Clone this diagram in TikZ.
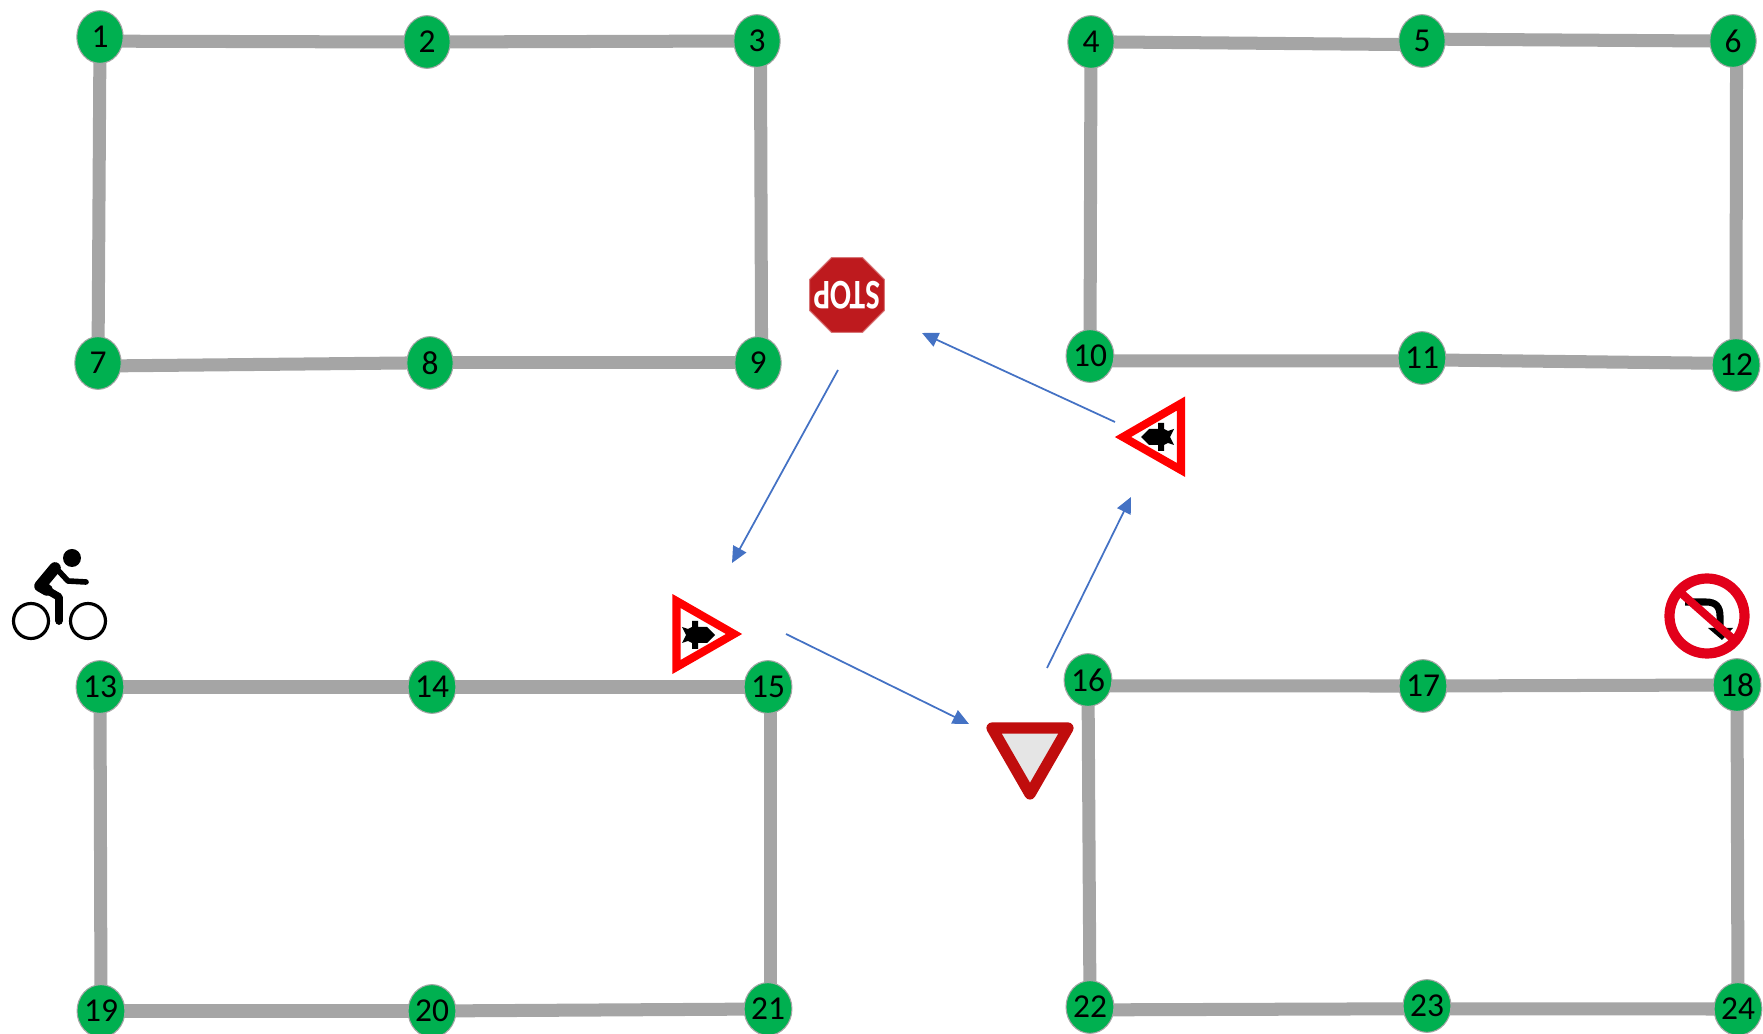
\documentclass[tikz,border=0pt]{standalone}
\usepackage{fontspec}
\setmainfont{Carlito}
\usetikzlibrary{shapes.geometric}
\usetikzlibrary{arrows.meta}
\usetikzlibrary{backgrounds}
\definecolor{nodegreen}{HTML}{00B050}
\definecolor{roadgray}{HTML}{A5A5A5}
\definecolor{arrowblue}{HTML}{4472C4}
\definecolor{stopred}{HTML}{BE1A1E}
\definecolor{yieldred}{HTML}{C00D0D}
\definecolor{banred}{HTML}{E2001A}
\tikzset{
 stopnode/.style={ellipse, fill=nodegreen, draw=roadgray, line width=.3pt, minimum width=13.2pt, minimum height=15pt, inner sep=0pt, font=\fontsize{9.5}{10}\selectfont},
 road/.style={roadgray, line width=3.7pt, shorten <=-2pt, shorten >=-2pt},
 flow/.style={arrowblue, line width=.5pt, -{Triangle[length=4.6pt,width=4.2pt]}},
 warnsign/.style={red, line width=2.3pt, line join=miter},
}
\newcommand{\carblob}{\fill[black] (-13,-8)--(-7,-6)--(-3,-8)--(-3,-14)--(3,-14)--(3,-8)--(12,-8)--(20,0)--(12,8)--(3,8)--(3,14)--(-3,14)--(-3,8)--(-7,6)--(-13,8)--(-9,0)--cycle;}
\begin{document}
\begin{tikzpicture} [x=.01cm, y=-.01cm]
\useasboundingbox (0,0) rectangle (1763,1034);
\foreach \n/\x/\y in {1/100/37, 2/427/42, 3/757/41, 4/1091/42, 5/1422/41, 6/1733/41,
  7/98/363, 8/430/363, 9/758/363, 10/1090/356, 11/1422/358, 12/1736/365,
  13/100/687, 14/432/687, 15/768/687, 16/1088/680, 17/1423/686, 18/1737/685,
  19/101/1011, 20/432/1011, 21/768/1009, 22/1090/1007, 23/1427/1006, 24/1738/1009} {
 \node[stopnode] (n\n) at (\x,\y) {\n};
}
\begin{scope}[on background layer]
\foreach \a/\b in {2/3,1/7,8/9,4/10,13/14,14/15,13/19,19/20,20/21,17/18,16/22,18/24} {
 \draw[road] (n\a)--(n\b);
}
% roads that miss the middle of a stop
\draw[road] ([yshift=-1.2pt]n1.east)--(n2.west);
\draw[road] ([xshift=1pt]n3.south)--([xshift=1pt]n9.north);
\draw[road] ([yshift=-.8pt]n7.east)--(n8.west);
\draw[road] (n4.east)--([yshift=-1pt]n5.west);
\draw[road] ([yshift=.5pt]n5.east)--(n6.west);
\draw[road] ([xshift=1pt]n6.south)--(n12.north);
\draw[road] ([yshift=-1.4pt]n10.east)--([yshift=-.8pt]n11.west);
\draw[road] ([yshift=-.6pt]n11.east)--([yshift=.5pt]n12.west);
\draw[road] ([xshift=.6pt]n15.south)--([xshift=.6pt]n21.north);
\draw[road] ([yshift=-1.7pt]n16.east)--(n17.west);
\draw[road] ([yshift=-.8pt]n22.east)--([yshift=-.8pt]n23.west);
\draw[road] ([yshift=-.8pt]n23.east)--(n24.west);
\end{scope}
% signs
\node[regular polygon, regular polygon sides=8, fill=stopred, draw=stopred!60!white, line width=.3pt, minimum size=23pt, inner sep=0pt, text=white, rotate=180, font=\fontsize{12}{12}\selectfont\bfseries] (stop) at (847,295) {\makebox[0pt]{\scalebox{.74}[1]{STOP}}};
\draw[warnsign] (676.5,601)--(734,634)--(676.5,667)--cycle;
\begin{scope}[shift={(695,635)}]
 \carblob
\end{scope}
\draw[warnsign] (1181,403.5)--(1123,437)--(1181,470)--cycle;
\begin{scope}[shift={(1161,437)}, xscale=-1]
 \carblob
\end{scope}
\draw[yieldred, fill=black!10, line width=3.2pt, line join=round] (992,728)--(1068,728)--(1030,794)--cycle;
% no u-turn
\draw[black, line width=2pt] (1685,602)--(1706,602) .. controls (1716,602) and (1720,607) .. (1720,616)--(1720,630);
\fill[black] (1708,628)--(1733,628)--(1722,640)--cycle;
\draw[banred, line width=2.9pt] (1707,616) circle (37.5);
\draw[banred, line width=2.3pt] (1681,593)--(1733,639);
% bike
\draw[black, line width=.9pt] (31,621) circle (17.5);
\draw[black, line width=.9pt] (88,621) circle (17.5);
\fill[black] (72,558) circle (9);
\draw[black, line width=3.3pt, line join=round, line cap=round] (55,568)--(40,586)--(47,590);
\draw[black, line width=2.2pt, line join=round, line cap=round] (40,586)--(59,597)--(59,621);
\draw[black, line width=1.6pt, line join=round, line cap=round] (55,567)--(68,581)--(86,582);
% arrows
\coordinate (stopout) at (838,370);
\coordinate (warnlin) at (732,563);
\coordinate (warnlout) at (786,634);
\coordinate (yieldin) at (969,724);
\coordinate (yieldout) at (1047,668);
\coordinate (warnrin) at (1131,497);
\coordinate (warnrout) at (1115,422);
\coordinate (stopin) at (922,333);
\draw[flow] (stopout)--(warnlin);
\draw[flow] (warnlout)--(yieldin);
\draw[flow] (yieldout)--(warnrin);
\draw[flow] (warnrout)--(stopin);
\end{tikzpicture}
\end{document}
